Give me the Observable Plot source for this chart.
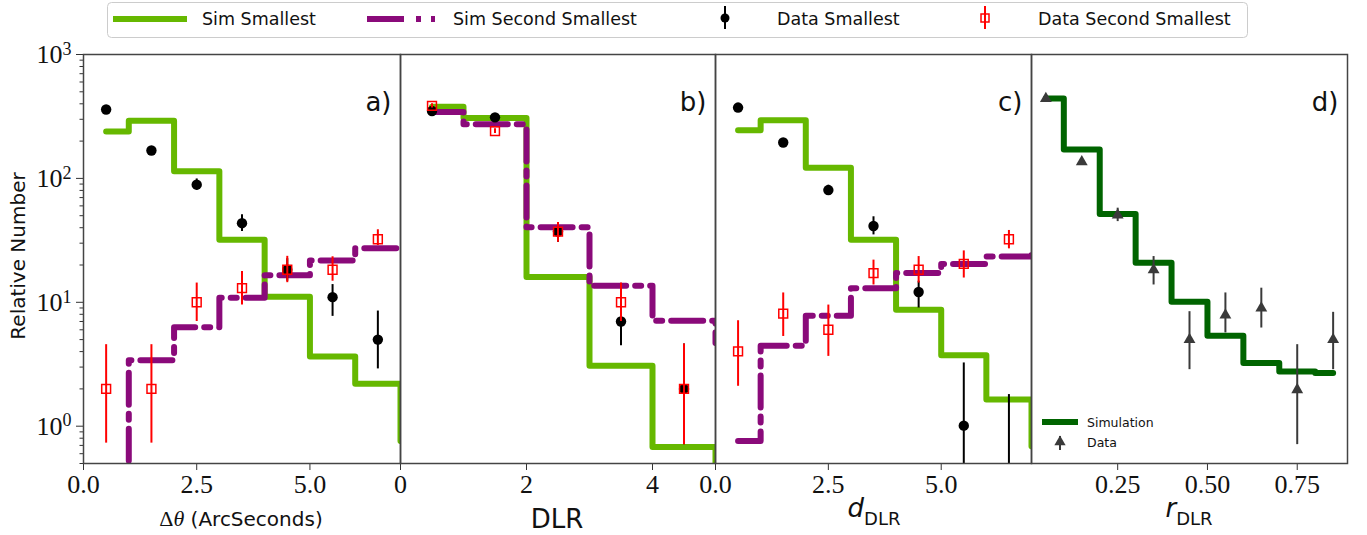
<!DOCTYPE html>
<html>
<head>
<meta charset="utf-8">
<script src="https://cdn.jsdelivr.net/npm/d3@7"></script>
<script src="https://cdn.jsdelivr.net/npm/@observablehq/plot@0.6"></script>
<style>
  body { margin: 0; background: #fff; }
  #wrap { position: relative; width: 1367px; height: 535px; overflow: hidden; background: #fff; }
  #wrap svg { position: absolute; top: 0; }
</style>
</head>
<body>
<div id="wrap"></div>
<script>
// ---------------- DATA ----------------
const yDomain = [0.5, 1000];
const yMajorTicks = [1, 10, 100, 1000];
const yTickExponents = ["0", "1", "2", "3"];

// Panel a) Δθ
const aSimX = [0.5, 1, 2, 3, 4, 5, 6, 7];
const aSimSmallest = [239, 292, 114, 32, 11.1, 3.65, 2.2, 0.76];
const aSimSecond = [0.1, 3.4, 6.3, 10.9, 16.5, 21.7, 27.3, 27.3];
const aDataX = [0.5, 1.5, 2.5, 3.5, 4.5, 5.5, 6.5];
const aDataSmallest = [360, 168, 89, 43.5, 18.3, 11, 5.0];
const aDataSmallestLo = [345, 160, 80, 37.2, 14.8, 7.7, 2.9];
const aDataSmallestHi = [375, 177, 99, 51, 22.5, 13.9, 8.5];
const aDataSecond = [2.0, 2.0, 10.0, 13.0, 18.3, 18.3, 32.3];
const aDataSecondLo = [0.73, 0.73, 7.0, 9.5, 14.4, 14.8, 28.7];
const aDataSecondHi = [4.55, 4.55, 14.3, 17.7, 23.5, 23.3, 38.5];
const aTicks = [0, 2.5, 5.0];
const aTickLabels = ["0.0", "2.5", "5.0"];

// Panel b) DLR
const bSimX = [0.5, 1, 2, 3, 4, 5];
const bSimSmallest = [378, 307, 16.0, 3.08, 0.68, 0.3];
const bSimSecond = [344, 274, 40.3, 13.6, 7.1, 4.7];
const bDataX = [0.5, 1.5, 2.5, 3.5, 4.5];
const bDataSmallest = [350, 311, 37.2, 7.0, 2.0];
const bDataSmallestLo = [335, 298, 30.5, 4.47, 0.71];
const bDataSmallestHi = [365, 324, 44, 9.8, 4.6];
const bDataSecond = [385, 241, 37.2, 10.0, 2.0];
const bDataSecondLo = [370, 230, 30.5, 7.0, 0.71];
const bDataSecondHi = [400, 252, 44, 14.3, 4.6];
const bTicks = [0, 2, 4];
const bTickLabels = ["0", "2", "4"];

// Panel c) d_DLR
const cSimX = [0.5, 1, 2, 3, 4, 5, 6, 7];
const cSimSmallest = [245, 295, 122, 32, 8.7, 3.73, 1.64, 0.69];
const cSimSecond = [0.76, 4.47, 7.8, 13.0, 17.2, 20.4, 23.4, 24];
const cDataX = [0.5, 1.5, 2.5, 3.5, 4.5, 5.5, 6.5];
const cDataSmallest = [373, 195, 80.5, 41.3, 12.1, 1.01, 0];
const cDataSmallestLo = [358, 186, 73, 35, 9.0, 0.1, 0.1];
const cDataSmallestHi = [388, 204, 88, 49, 14.8, 3.24, 1.8];
const cDataSecond = [4.02, 8.1, 6.0, 17.2, 18.3, 20.4, 32.3];
const cDataSecondLo = [2.1, 5.3, 3.66, 13.8, 14.3, 15.7, 27];
const cDataSecondHi = [7.1, 11.9, 9.5, 21.9, 23.4, 26, 38];
const cTicks = [0, 2.5, 5.0];
const cTickLabels = ["0.0", "2.5", "5.0"];

// Panel d) r_DLR
const dSimX = [0.05, 0.1, 0.2, 0.3, 0.4, 0.5, 0.6, 0.7, 0.8, 0.85];
const dSimulation = [441, 171, 51.6, 20.9, 10.1, 5.37, 3.24, 2.77, 2.69, 2.69];
const dDataX = [0.05, 0.15, 0.25, 0.35, 0.45, 0.55, 0.65, 0.75, 0.85];
const dData = [441, 136, 50.6, 18.3, 5.0, 7.9, 9.0, 1.97, 5.0];
const dDataLo = [430, 130, 44.8, 13.8, 2.86, 5.66, 6.2, 0.71, 2.86];
const dDataHi = [452, 142, 57.5, 23.4, 8.4, 11.9, 13.0, 4.55, 8.3];
const dTicks = [0.25, 0.5, 0.75];
const dTickLabels = ["0.25", "0.50", "0.75"];

const panelLabels = ["a)", "b)", "c)", "d)"];

// ---------------- STYLE ----------------
const GREEN = "#66b800";
const PURPLE = "#8a0a7a";
const DARKGREEN = "#006400";
const GREY = "#3a3a3a";
const DASH = "32,9,6,9";

const rowsLine = (xs, ys) => xs.map((x, i) => ({x, y: ys[i]}));
const rowsErr = (xs, ys, lo, hi) => xs.map((x, i) => ({x, y: ys[i], lo: lo[i], hi: hi[i]}));

const wrap = document.getElementById("wrap");

function xAxis(ticks, labels) {
  return Plot.axisX({
    ticks, tickFormat: d => labels[ticks.indexOf(d)],
    tickSize: 7, tickPadding: 4, label: null, fontSize: 26, stroke: "#333"
  });
}

function panelText(label) {
  return Plot.text([label], {
    frameAnchor: "top-right", text: d => d, dx: -9, dy: 38,
    fontSize: 26, fontFamily: "DejaVu Sans", fill: "#111"
  });
}

function makePlot({left, width, marginLeft, marginRight, xDomain, marks, yAxis}) {
  const svg = Plot.plot({
    width, height: 535,
    marginTop: 54, marginBottom: 72, marginLeft, marginRight,
    x: {domain: xDomain},
    y: {type: "log", domain: yDomain, axis: yAxis ? undefined : null},
    style: {fontFamily: "Liberation Serif", fontSize: "26px", background: "transparent", overflow: "visible", color: "#111"},
    marks
  });
  svg.style.left = left + "px";
  svg.style.top = "0px";
  svg.style.position = "absolute";
  svg.style.maxWidth = "none";
  wrap.appendChild(svg);
  return svg;
}

function twoSeriesMarks(simX, s1, s2, dx, d1, d1lo, d1hi, d2, d2lo, d2hi) {
  const e1 = rowsErr(dx, d1, d1lo, d1hi);
  const e2 = rowsErr(dx, d2, d2lo, d2hi);
  return [
    Plot.line(rowsLine(simX, s1), {x: "x", y: "y", curve: "step-after", stroke: GREEN, strokeWidth: 6, strokeLinejoin: "round", clip: true}),
    Plot.line(rowsLine(simX, s2), {x: "x", y: "y", curve: "step-after", stroke: PURPLE, strokeWidth: 6, strokeDasharray: DASH, strokeLinejoin: "round", clip: true}),
    Plot.ruleX(e1, {x: "x", y1: "lo", y2: "hi", stroke: "black", strokeWidth: 2, clip: true}),
    Plot.dot(e1.filter(d => d.y > 0), {x: "x", y: "y", r: 5.2, fill: "black", stroke: "none"}),
    Plot.ruleX(e2, {x: "x", y1: "lo", y2: "hi", stroke: "red", strokeWidth: 2, clip: true}),
    Plot.dot(e2.filter(d => d.y > 0), {x: "x", y: "y", r: 5, symbol: "square", fill: "none", stroke: "red", strokeWidth: 1.5})
  ];
}

const frame = () => Plot.frame({stroke: "#444", strokeWidth: 1.5});

// minor log ticks
const yMinorTicks = [];
for (const p of [0.1, 1, 10, 100]) for (let k = 2; k <= 9; k++) {
  const v = +(k * p).toPrecision(3);
  if (v >= yDomain[0] && v <= yDomain[1]) yMinorTicks.push(v);
}

// Panel a
const svgA = makePlot({
  left: 0, width: 400, marginLeft: 83, marginRight: 0, xDomain: [0, 7], yAxis: true,
  marks: [
    ...twoSeriesMarks(aSimX, aSimSmallest, aSimSecond, aDataX, aDataSmallest, aDataSmallestLo, aDataSmallestHi, aDataSecond, aDataSecondLo, aDataSecondHi),
    Plot.axisY({ticks: yMinorTicks, tickSize: 3.5, tickFormat: () => "", label: null, stroke: "#333"}),
    Plot.axisY({ticks: yMajorTicks, tickSize: 7, tickPadding: 5, label: null, fontSize: 26, stroke: "#333",
      tickFormat: d => yTickExponents[yMajorTicks.indexOf(d)]}),
    xAxis(aTicks, aTickLabels),
    frame(),
    panelText(panelLabels[0])
  ]
});
// superscript the y tick labels: 10^k
d3.select(svgA).selectAll('g[aria-label="y-axis tick label"] text').each(function() {
  const t = this.textContent;
  if (!t) return;
  const sel = d3.select(this);
  sel.text(null);
  sel.append("tspan").text("10");
  sel.append("tspan").attr("dy", "-0.45em").attr("font-size", "18px").text(t);
});

// Panel b
makePlot({
  left: 400, width: 315, marginLeft: 0, marginRight: 0, xDomain: [0, 5],
  marks: [
    ...twoSeriesMarks(bSimX, bSimSmallest, bSimSecond, bDataX, bDataSmallest, bDataSmallestLo, bDataSmallestHi, bDataSecond, bDataSecondLo, bDataSecondHi),
    xAxis(bTicks, bTickLabels),
    frame(),
    panelText(panelLabels[1])
  ]
});

// Panel c
makePlot({
  left: 715, width: 316, marginLeft: 0, marginRight: 0, xDomain: [0, 7],
  marks: [
    ...twoSeriesMarks(cSimX, cSimSmallest, cSimSecond, cDataX, cDataSmallest, cDataSmallestLo, cDataSmallestHi, cDataSecond, cDataSecondLo, cDataSecondHi),
    xAxis(cTicks, cTickLabels),
    frame(),
    panelText(panelLabels[2])
  ]
});

// Panel d
const dErr = rowsErr(dDataX, dData, dDataLo, dDataHi);
makePlot({
  left: 1031, width: 336, marginLeft: 0, marginRight: 20, xDomain: [0.01, 0.89],
  marks: [
    Plot.line(rowsLine(dSimX, dSimulation), {x: "x", y: "y", curve: "step-after", stroke: DARKGREEN, strokeWidth: 6, strokeLinejoin: "round", clip: true}),
    Plot.ruleX(dErr, {x: "x", y1: "lo", y2: "hi", stroke: GREY, strokeWidth: 2, clip: true}),
    Plot.dot(dErr, {x: "x", y: "y", r: 4.4, symbol: "triangle", fill: GREY, stroke: "none"}),
    xAxis(dTicks, dTickLabels),
    frame(),
    panelText(panelLabels[3])
  ]
});

// ---------------- OVERLAY: legends & axis titles ----------------
const ov = d3.select(wrap).append("svg")
  .attr("width", 1367).attr("height", 535)
  .style("left", "0px").style("top", "0px").style("pointer-events", "none")
  .style("font-family", "DejaVu Sans");

// Top legend
ov.append("rect").attr("x", 107.5).attr("y", 2.5).attr("width", 1140).attr("height", 35)
  .attr("rx", 4).attr("fill", "white").attr("stroke", "#cccccc").attr("stroke-width", 1);
ov.append("line").attr("x1", 113).attr("x2", 187).attr("y1", 19).attr("y2", 19)
  .attr("stroke", GREEN).attr("stroke-width", 6);
ov.append("line").attr("x1", 367).attr("x2", 435).attr("y1", 19).attr("y2", 19)
  .attr("stroke", PURPLE).attr("stroke-width", 6).attr("stroke-dasharray", "37,12,5,10");
ov.append("line").attr("x1", 725).attr("x2", 725).attr("y1", 6).attr("y2", 29).attr("stroke", "black").attr("stroke-width", 2);
ov.append("circle").attr("cx", 725).attr("cy", 18).attr("r", 4.5).attr("fill", "black");
ov.append("line").attr("x1", 985).attr("x2", 985).attr("y1", 6).attr("y2", 29).attr("stroke", "red").attr("stroke-width", 2);
ov.append("rect").attr("x", 981).attr("y", 14).attr("width", 8).attr("height", 8).attr("fill", "none").attr("stroke", "red").attr("stroke-width", 1.5);
const legendItems = [["Sim Smallest", 202], ["Sim Second Smallest", 453], ["Data Smallest", 777], ["Data Second Smallest", 1038]];
for (const [t, x] of legendItems) {
  ov.append("text").attr("x", x).attr("y", 25).attr("font-size", 17.5).attr("fill", "#111").text(t);
}

// Panel d legend
ov.append("line").attr("x1", 1042).attr("x2", 1078).attr("y1", 422).attr("y2", 422)
  .attr("stroke", DARKGREEN).attr("stroke-width", 6);
ov.append("line").attr("x1", 1060).attr("x2", 1060).attr("y1", 436).attr("y2", 450).attr("stroke", GREY).attr("stroke-width", 2);
ov.append("path").attr("d", d3.symbol(d3.symbolTriangle, 55)()).attr("transform", "translate(1060,442)").attr("fill", GREY);
ov.append("text").attr("x", 1087).attr("y", 426.5).attr("font-size", 12.5).attr("fill", "#111").text("Simulation");
ov.append("text").attr("x", 1087).attr("y", 447).attr("font-size", 12.5).attr("fill", "#111").text("Data");

// y-axis title
ov.append("text").attr("transform", "translate(25,256) rotate(-90)").attr("text-anchor", "middle")
  .attr("font-size", 20).attr("fill", "#111").text("Relative Number");

// x-axis titles
const tA = ov.append("text").attr("x", 241).attr("y", 526).attr("text-anchor", "middle").attr("font-size", 20).attr("fill", "#111");
tA.append("tspan").attr("font-family", "Liberation Serif").attr("font-size", 22).text("Δ");
tA.append("tspan").attr("font-family", "Liberation Serif").attr("font-style", "italic").attr("font-size", 22).text("θ");
tA.append("tspan").text(" (ArcSeconds)");

ov.append("text").attr("x", 557).attr("y", 528).attr("text-anchor", "middle").attr("font-size", 26).attr("fill", "#111").text("DLR");

const tC = ov.append("text").attr("x", 874).attr("y", 517).attr("text-anchor", "middle").attr("fill", "#111");
tC.append("tspan").attr("font-style", "italic").attr("font-size", 26).text("d");
tC.append("tspan").attr("dy", 8).attr("font-size", 18).text("DLR");

const tD = ov.append("text").attr("x", 1189).attr("y", 517).attr("text-anchor", "middle").attr("fill", "#111");
tD.append("tspan").attr("font-style", "italic").attr("font-size", 26).text("r");
tD.append("tspan").attr("dy", 8).attr("font-size", 18).text("DLR");
</script>
</body>
</html>
